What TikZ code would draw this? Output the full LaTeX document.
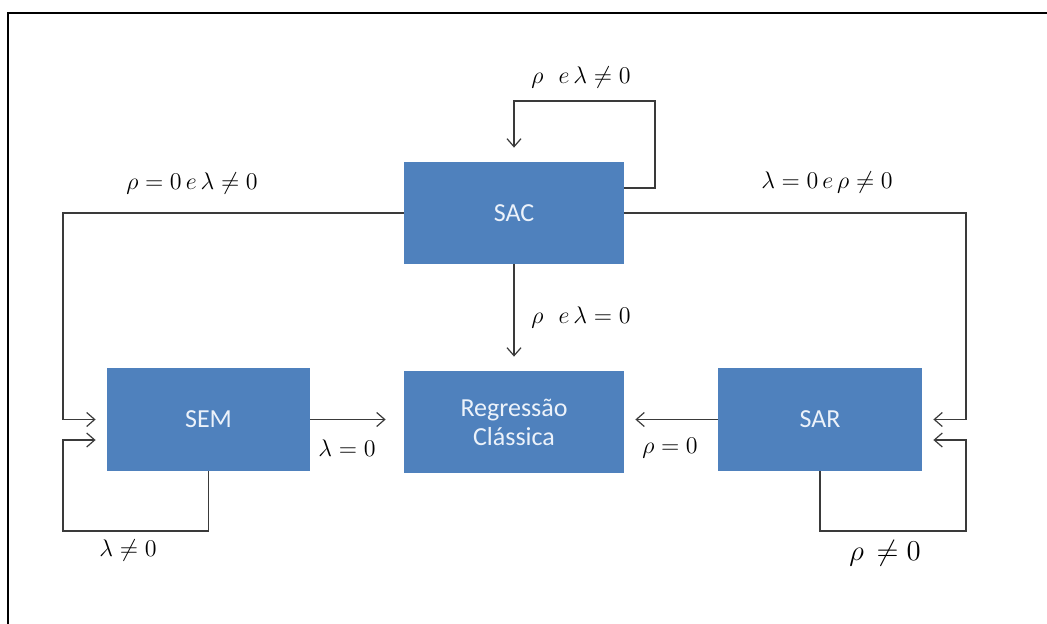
\documentclass[tikz,border=0pt]{standalone}
\usepackage{amsmath,amssymb}
\usepackage{fontspec}
\usetikzlibrary{arrows.meta}
\newfontfamily\boxfont{Carlito}
\definecolor{boxblue}{RGB}{79,129,189}
\definecolor{boxtext}{RGB}{236,242,250}
\definecolor{linegray}{RGB}{58,58,58}
\tikzset{
    modelo/.style={rectangle,fill=boxblue,text=boxtext,align=center,
        font=\boxfont\fontsize{13}{14.5}\selectfont,inner sep=0pt},
    seta/.style={-{Straight Barb[length=4pt,width=7pt]},linegray,line width=0.6pt},
    rotulo/.style={font=\fontsize{11.5}{13}\selectfont,inner sep=1pt}
}

\begin{document}
\begin{tikzpicture}[x=0.5pt,y=-0.5pt]
            \useasboundingbox (0,0) rectangle (1047,624);
            \draw[line width=1.2pt] (8,624)--(8,13)--(1047,13);

            \node[modelo,minimum width=110pt,minimum height=51pt] (SAC) at (514,213) {SAC};
            \node[modelo,minimum width=101.5pt,minimum height=51.5pt] (SEM) at (208.5,419.5) {SEM};
            \node[modelo,minimum width=110pt,minimum height=51pt] (REG) at (514,422) {Regressão\\Clássica};
            \node[modelo,minimum width=102pt,minimum height=51.5pt] (SAR) at (820,419.5) {SAR};

            \coordinate (cantoSAC) at (655,101);
            \coordinate (cantoE) at (63,213);
            \coordinate (cantoD) at (966,213);
            \coordinate (laçoSEM) at (63,531);
            \coordinate (laçoSAR) at (966,531);

            % SAC
            \draw[seta,shorten >=7pt] ([yshift=12.5pt]SAC.east) -| (cantoSAC) -| (SAC.north);
            \draw[seta,shorten >=7pt] (SAC.south)--(REG.north);
            \draw[seta,shorten >=5.5pt] (SAC.west)--(cantoE) |- (SEM.west);
            \draw[seta,shorten >=5.5pt] (SAC.east)--(cantoD) |- (SAR.east);

            % SEM e SAR
            \draw[seta,shorten >=9pt] (SEM.east)--(SEM.east -| REG.west);
            \draw[seta,shorten >=5.5pt] (SAR.west)--(SAR.west -| REG.east);
            \draw[seta,shorten >=5.5pt] (SEM.south) |- (laçoSEM) |- ([yshift=-10.25pt]SEM.west);
            \draw[seta,shorten >=5.5pt] (SAR.south) |- (laçoSAR) |- ([yshift=-10.25pt]SAR.east);

            \node[rotulo] (r1) at (581,78) {$\rho\ \ e\,\lambda\neq0$};
            \node[rotulo] (r2) at (192,184) {$\rho=0\,e\,\lambda\neq0$};
            \node[rotulo] (r3) at (827,183) {$\lambda=0\,e\,\rho\neq0$};
            \node[rotulo] (r4) at (581,318) {$\rho\ \ e\,\lambda=0$};
            \node[rotulo] (r5) at (347,448) {$\lambda=0$};
            \node[rotulo] (r6) at (670,448) {$\rho=0$};
            \node[rotulo] (r7) at (128,550) {$\lambda\neq0$};
            \node[rotulo,font=\fontsize{14}{16}\selectfont] (r8) at (885,553) {$\rho\,\neq0$};
        \end{tikzpicture}
\end{document}
